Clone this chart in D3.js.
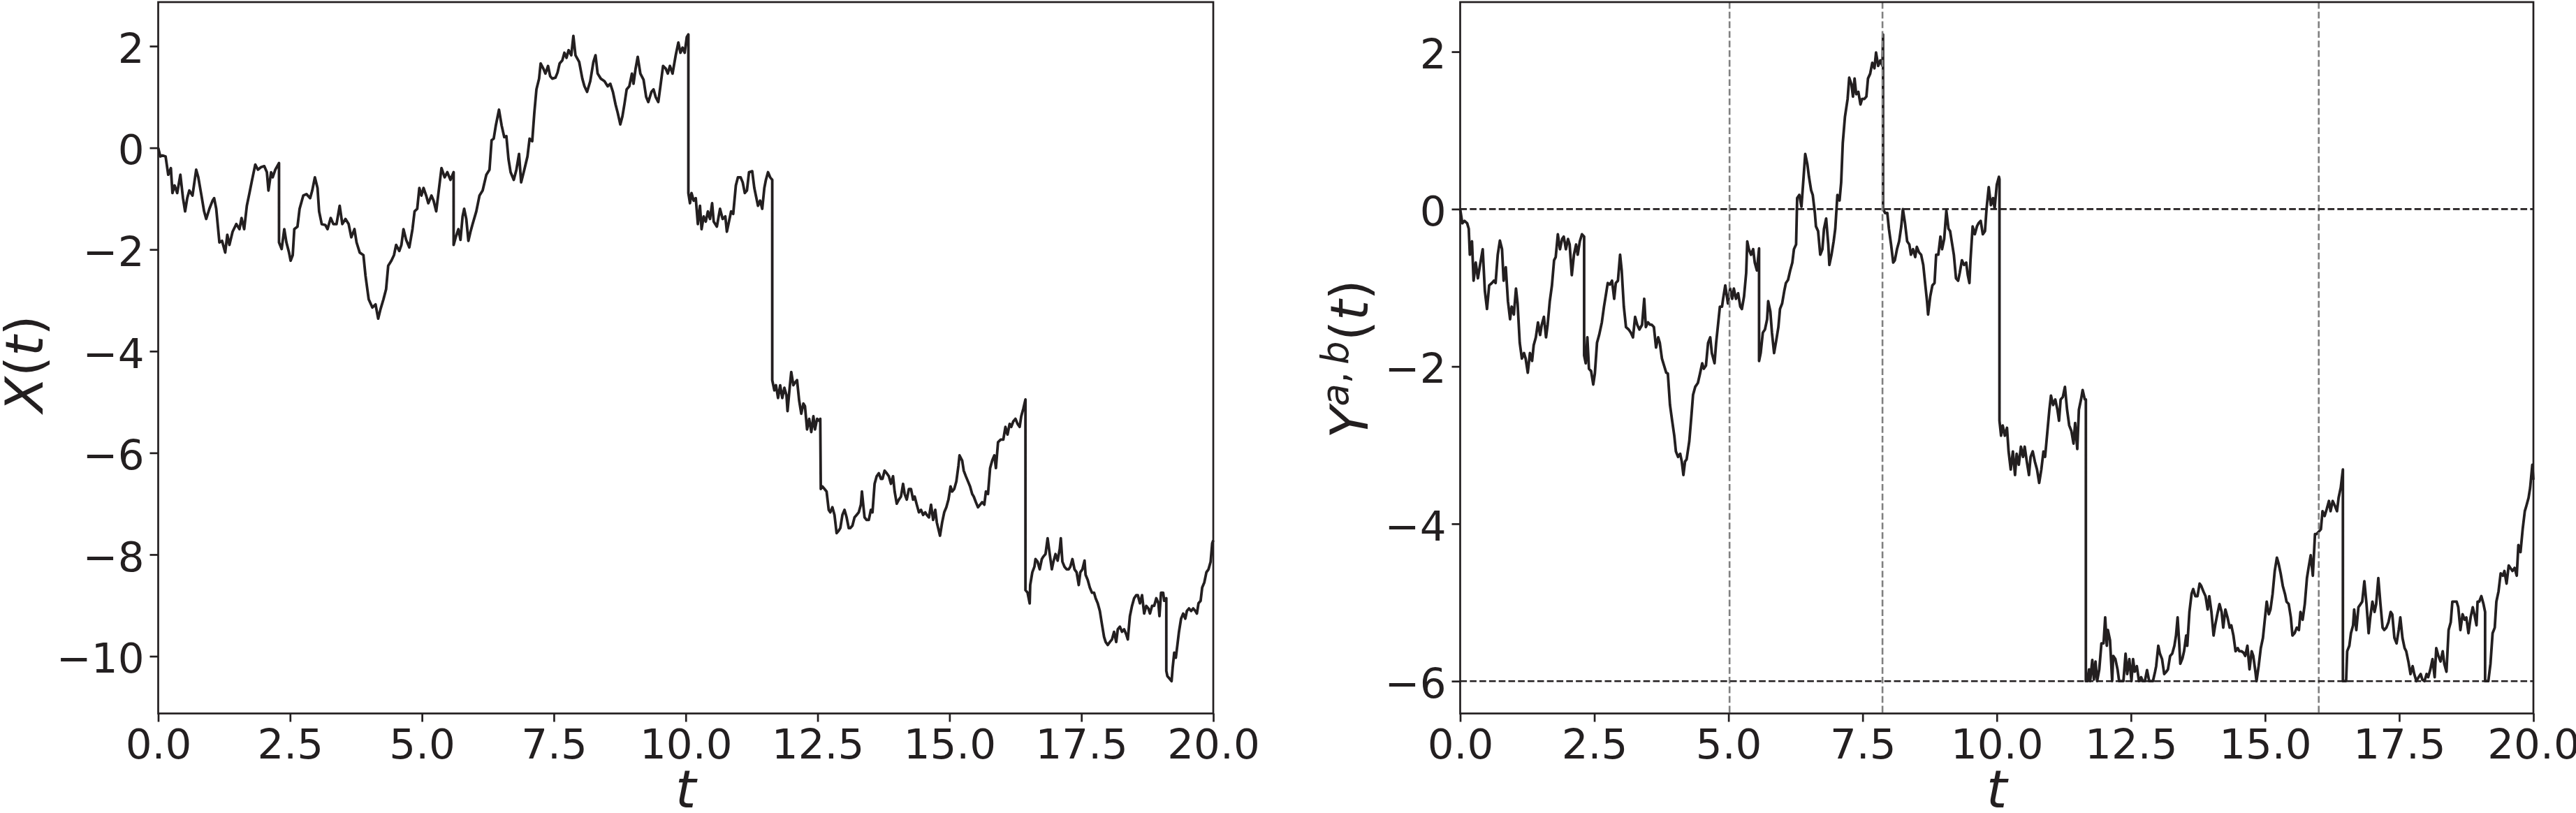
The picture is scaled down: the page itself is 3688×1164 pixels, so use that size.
<!DOCTYPE html>
<html><head><meta charset="utf-8">
<script src="https://cdn.jsdelivr.net/npm/d3@7"></script>
<style>html,body{margin:0;padding:0;background:#fff;} svg{display:block;}</style>
</head><body><svg id="chart" width="3688" height="1164"></svg>
<script>
// ---------- data ----------
const xTickValues = [0, 2.5, 5, 7.5, 10, 12.5, 15, 17.5, 20];
const leftYTicks = [2, 0, -2, -4, -6, -8, -10];
const rightYTicks = [2, 0, -2, -4, -6];
const barrierLevels = [0, -6];
const markedTimes = [5.02, 7.87, 16.0];

// X(t): [t, value]
const xPath = [
[0,0],[0.04,-0.17],[0.08,-0.15],[0.14,-0.17],[0.19,-0.53],[0.24,-0.40],[0.27,-0.89],[0.31,-0.74],[0.36,-0.89],[0.42,-0.53],
[0.47,-0.99],[0.51,-1.25],[0.55,-0.99],[0.59,-0.84],[0.65,-0.94],[0.72,-0.43],[0.76,-0.58],[0.82,-0.94],[0.87,-1.25],[0.91,-1.40],
[0.97,-1.20],[1.03,-1.04],[1.06,-0.99],[1.10,-1.20],[1.16,-1.86],[1.21,-1.83],[1.27,-2.06],[1.31,-1.71],[1.35,-1.91],[1.41,-1.65],
[1.48,-1.50],[1.54,-1.60],[1.58,-1.38],[1.63,-1.60],[1.68,-1.14],[1.73,-0.89],[1.78,-0.63],[1.84,-0.33],[1.89,-0.43],[1.95,-0.38],
[2.01,-0.36],[2.06,-0.48],[2.09,-0.84],[2.14,-0.48],[2.17,-0.58],[2.22,-0.43],[2.29,-0.30],[2.29,-1.86],[2.34,-1.99],[2.39,-1.60],
[2.43,-1.86],[2.48,-2.06],[2.51,-2.22],[2.55,-2.11],[2.58,-1.60],[2.64,-1.55],[2.68,-1.20],[2.75,-0.94],[2.81,-0.91],[2.88,-0.99],
[2.92,-0.84],[2.97,-0.58],[3.02,-0.79],[3.05,-1.25],[3.10,-1.50],[3.17,-1.52],[3.21,-1.60],[3.27,-1.38],[3.32,-1.50],[3.38,-1.50],
[3.44,-1.14],[3.49,-1.50],[3.55,-1.40],[3.61,-1.50],[3.66,-1.76],[3.72,-1.60],[3.76,-1.86],[3.82,-2.06],[3.89,-2.11],[3.93,-2.52],
[3.99,-2.98],[4.06,-3.14],[4.12,-3.08],[4.17,-3.36],[4.21,-3.19],[4.27,-2.98],[4.32,-2.78],[4.36,-2.32],[4.42,-2.22],[4.47,-2.11],
[4.51,-1.91],[4.57,-2.03],[4.61,-1.91],[4.65,-1.60],[4.70,-1.81],[4.76,-1.96],[4.82,-1.60],[4.86,-1.25],[4.91,-1.20],[4.95,-0.79],
[4.99,-0.94],[5.03,-0.79],[5.08,-0.94],[5.12,-1.09],[5.18,-0.94],[5.22,-1.04],[5.27,-1.25],[5.33,-0.74],[5.37,-0.40],[5.43,-0.58],
[5.48,-0.48],[5.54,-0.63],[5.60,-0.48],[5.60,-1.91],[5.64,-1.76],[5.69,-1.60],[5.73,-1.81],[5.77,-1.35],[5.80,-1.20],[5.84,-1.40],
[5.88,-1.83],[5.92,-1.65],[5.96,-1.50],[6.03,-1.25],[6.09,-0.94],[6.15,-0.84],[6.22,-0.53],[6.28,-0.43],[6.32,0.15],[6.36,0.18],
[6.40,0.44],[6.46,0.75],[6.51,0.44],[6.56,0.21],[6.60,0.23],[6.64,-0.22],[6.68,-0.48],[6.74,-0.63],[6.79,-0.43],[6.84,-0.12],
[6.88,-0.68],[6.94,-0.43],[7.00,-0.17],[7.04,0.18],[7.09,0.13],[7.13,0.69],[7.17,1.15],[7.22,1.36],[7.25,1.66],[7.30,1.56],
[7.34,1.46],[7.39,1.61],[7.43,1.41],[7.47,1.36],[7.53,1.38],[7.57,1.48],[7.61,1.66],[7.66,1.72],[7.70,1.87],[7.74,1.77],
[7.78,1.92],[7.83,1.82],[7.87,2.20],[7.91,1.82],[7.98,1.69],[8.04,1.36],[8.08,1.21],[8.13,1.10],[8.19,1.31],[8.25,1.69],
[8.29,1.82],[8.33,1.46],[8.39,1.36],[8.46,1.31],[8.52,1.21],[8.57,1.26],[8.62,1.10],[8.67,0.85],[8.71,0.69],[8.76,0.46],
[8.80,0.62],[8.84,0.87],[8.88,1.15],[8.93,1.21],[8.98,1.46],[9.01,1.26],[9.05,1.56],[9.09,1.79],[9.14,1.46],[9.20,1.34],
[9.25,1.00],[9.29,0.90],[9.35,1.10],[9.39,1.15],[9.43,1.00],[9.48,0.90],[9.52,1.21],[9.57,1.61],[9.62,1.56],[9.66,1.46],
[9.70,1.61],[9.75,1.46],[9.81,1.82],[9.86,2.07],[9.90,1.87],[9.94,1.97],[9.98,1.87],[10.02,2.18],[10.05,2.23],[10.05,-0.89],
[10.08,-1.09],[10.11,-0.89],[10.15,-1.04],[10.19,-0.99],[10.23,-1.50],[10.27,-1.14],[10.30,-1.60],[10.34,-1.35],[10.38,-1.45],[10.42,-1.25],
[10.46,-1.40],[10.50,-1.09],[10.53,-1.45],[10.59,-1.55],[10.65,-1.20],[10.70,-1.40],[10.75,-1.35],[10.78,-1.65],[10.82,-1.45],[10.86,-1.25],
[10.90,-1.30],[10.95,-0.74],[10.99,-0.58],[11.04,-0.58],[11.08,-0.68],[11.12,-0.89],[11.16,-0.84],[11.20,-0.48],[11.26,-0.46],[11.30,-0.79],
[11.33,-0.94],[11.37,-1.14],[11.41,-1.04],[11.45,-1.20],[11.49,-0.79],[11.52,-0.63],[11.56,-0.48],[11.60,-0.58],[11.64,-0.63],[11.64,-4.57],
[11.68,-4.77],[11.71,-4.67],[11.75,-4.92],[11.79,-4.67],[11.83,-4.92],[11.87,-4.72],[11.91,-4.87],[11.93,-5.18],[11.97,-4.72],[12.00,-4.41],
[12.04,-4.67],[12.07,-4.62],[12.11,-4.57],[12.15,-4.97],[12.19,-5.23],[12.23,-5.03],[12.26,-5.08],[12.30,-5.54],[12.34,-5.33],[12.38,-5.59],
[12.42,-5.28],[12.45,-5.54],[12.49,-5.33],[12.54,-5.38],[12.55,-5.33],[12.56,-6.71],[12.59,-6.66],[12.63,-6.71],[12.67,-6.76],[12.71,-7.12],
[12.74,-7.17],[12.78,-7.07],[12.82,-7.22],[12.86,-7.58],[12.90,-7.53],[12.93,-7.48],[12.97,-7.22],[13.01,-7.12],[13.05,-7.27],[13.09,-7.48],
[13.12,-7.48],[13.16,-7.43],[13.20,-7.27],[13.24,-7.22],[13.28,-7.17],[13.32,-7.02],[13.34,-6.76],[13.37,-7.07],[13.39,-7.27],[13.43,-7.32],
[13.47,-7.32],[13.51,-7.12],[13.54,-7.17],[13.58,-6.61],[13.62,-6.46],[13.66,-6.40],[13.70,-6.51],[13.73,-6.51],[13.77,-6.35],[13.81,-6.40],
[13.85,-6.46],[13.89,-6.61],[13.93,-6.46],[13.96,-6.76],[14.00,-7.00],[14.04,-6.92],[14.08,-6.86],[14.12,-6.61],[14.15,-6.81],[14.19,-6.92],
[14.23,-6.71],[14.27,-6.71],[14.31,-6.92],[14.34,-6.86],[14.38,-7.02],[14.42,-7.17],[14.46,-7.12],[14.50,-7.22],[14.54,-7.17],[14.57,-7.22],
[14.61,-7.27],[14.65,-7.02],[14.69,-7.32],[14.73,-7.12],[14.76,-7.37],[14.82,-7.63],[14.86,-7.37],[14.90,-7.17],[14.94,-7.07],[14.98,-6.92],
[15.02,-6.66],[15.05,-6.76],[15.09,-6.71],[15.13,-6.56],[15.17,-6.25],[15.19,-6.05],[15.24,-6.15],[15.27,-6.35],[15.31,-6.46],[15.35,-6.56],
[15.39,-6.66],[15.43,-6.81],[15.46,-6.86],[15.50,-6.97],[15.54,-7.07],[15.58,-7.02],[15.62,-6.97],[15.66,-7.02],[15.69,-6.76],[15.73,-6.81],
[15.77,-6.30],[15.81,-6.15],[15.85,-6.05],[15.88,-6.30],[15.92,-5.79],[15.97,-5.74],[16.02,-5.74],[16.06,-5.49],[16.10,-5.64],[16.14,-5.43],
[16.17,-5.49],[16.21,-5.38],[16.25,-5.33],[16.29,-5.43],[16.33,-5.49],[16.36,-5.28],[16.40,-5.13],[16.44,-4.95],[16.44,-8.70],[16.48,-8.75],
[16.52,-8.96],[16.53,-8.60],[16.57,-8.35],[16.61,-8.24],[16.63,-8.09],[16.67,-8.14],[16.71,-8.29],[16.75,-8.09],[16.78,-8.04],[16.82,-7.99],
[16.86,-7.68],[16.90,-7.99],[16.94,-8.29],[16.97,-8.14],[17.01,-7.99],[17.05,-8.12],[17.09,-7.89],[17.11,-7.68],[17.14,-8.14],[17.18,-8.24],
[17.22,-8.29],[17.26,-8.29],[17.29,-8.24],[17.33,-8.09],[17.37,-8.29],[17.41,-8.35],[17.45,-8.60],[17.48,-8.35],[17.52,-8.29],[17.56,-8.12],
[17.58,-8.40],[17.62,-8.50],[17.66,-8.65],[17.70,-8.75],[17.74,-8.75],[17.77,-8.86],[17.81,-8.96],[17.85,-9.11],[17.89,-9.37],[17.93,-9.62],
[17.96,-9.72],[18.00,-9.78],[18.04,-9.72],[18.08,-9.67],[18.12,-9.52],[18.16,-9.72],[18.19,-9.47],[18.23,-9.42],[18.27,-9.52],[18.31,-9.47],
[18.35,-9.57],[18.38,-9.67],[18.42,-9.21],[18.46,-9.01],[18.50,-8.86],[18.54,-8.80],[18.57,-8.80],[18.61,-8.96],[18.65,-8.80],[18.69,-9.16],
[18.73,-9.01],[18.77,-9.06],[18.80,-9.16],[18.84,-9.01],[18.88,-9.01],[18.92,-8.86],[18.96,-8.96],[18.98,-9.21],[19.01,-8.75],[19.05,-8.75],
[19.07,-8.91],[19.11,-8.86],[19.11,-10.29],[19.13,-10.39],[19.17,-10.44],[19.21,-10.49],[19.23,-10.23],[19.26,-9.93],[19.29,-10.03],[19.32,-9.78],
[19.35,-9.52],[19.39,-9.26],[19.43,-9.16],[19.47,-9.26],[19.50,-9.11],[19.54,-9.06],[19.58,-9.11],[19.62,-9.06],[19.66,-9.11],[19.69,-9.16],
[19.72,-8.96],[19.76,-8.91],[19.79,-8.65],[19.83,-8.55],[19.87,-8.35],[19.91,-8.29],[19.95,-8.14],[19.98,-7.78],[20.00,-7.72]
];

// Y^{a,b}(t): [t, value]
const yPath = [
[0,0],[0.04,-0.18],[0.08,-0.15],[0.13,-0.18],[0.16,-0.25],[0.18,-0.58],[0.22,-0.41],[0.25,-0.91],[0.29,-0.68],[0.33,-0.88],
[0.37,-0.71],[0.42,-0.51],[0.46,-1.04],[0.50,-1.27],[0.54,-0.97],[0.59,-0.94],[0.63,-0.91],[0.66,-0.94],[0.70,-0.58],[0.74,-0.40],
[0.78,-0.51],[0.81,-0.91],[0.85,-0.74],[0.89,-1.17],[0.93,-1.40],[0.96,-1.24],[1.00,-1.34],[1.04,-1.01],[1.07,-1.20],[1.11,-1.70],
[1.15,-1.90],[1.19,-1.83],[1.22,-1.90],[1.26,-2.08],[1.30,-1.83],[1.34,-1.93],[1.37,-1.73],[1.41,-1.63],[1.45,-1.44],[1.49,-1.60],
[1.52,-1.47],[1.56,-1.37],[1.60,-1.63],[1.63,-1.47],[1.67,-1.17],[1.71,-0.97],[1.75,-0.65],[1.78,-0.61],[1.82,-0.32],[1.86,-0.51],
[1.90,-0.38],[1.93,-0.35],[1.97,-0.51],[2.01,-0.38],[2.04,-0.45],[2.08,-0.84],[2.12,-0.58],[2.16,-0.45],[2.19,-0.58],[2.23,-0.41],
[2.27,-0.32],[2.31,-0.35],[2.31,-1.86],[2.34,-1.96],[2.37,-1.63],[2.40,-2.03],[2.44,-2.06],[2.48,-2.23],[2.51,-2.09],[2.55,-1.70],
[2.59,-1.60],[2.64,-1.44],[2.68,-1.24],[2.72,-1.07],[2.75,-0.94],[2.79,-0.96],[2.83,-0.91],[2.87,-1.14],[2.90,-0.94],[2.94,-0.91],
[2.98,-0.58],[3.01,-0.78],[3.05,-1.24],[3.09,-1.50],[3.14,-1.53],[3.18,-1.57],[3.22,-1.63],[3.26,-1.37],[3.30,-1.47],[3.34,-1.53],
[3.39,-1.47],[3.43,-1.14],[3.46,-1.50],[3.50,-1.44],[3.54,-1.47],[3.57,-1.47],[3.61,-1.50],[3.65,-1.76],[3.69,-1.63],[3.72,-1.70],
[3.76,-1.90],[3.80,-1.99],[3.84,-2.08],[3.87,-2.09],[3.91,-2.49],[3.95,-2.69],[3.99,-2.88],[4.02,-3.08],[4.06,-3.15],[4.10,-3.11],
[4.13,-3.21],[4.16,-3.38],[4.19,-3.21],[4.22,-3.18],[4.27,-2.95],[4.31,-2.62],[4.34,-2.36],[4.38,-2.26],[4.43,-2.21],[4.47,-2.09],
[4.51,-1.96],[4.54,-2.03],[4.58,-1.99],[4.62,-1.70],[4.66,-1.63],[4.69,-1.83],[4.74,-1.96],[4.77,-1.70],[4.81,-1.44],[4.84,-1.24],
[4.88,-1.24],[4.90,-1.14],[4.94,-0.97],[4.99,-1.20],[5.03,-1.01],[5.07,-1.14],[5.10,-1.01],[5.14,-1.14],[5.18,-1.07],[5.22,-1.24],
[5.25,-1.27],[5.29,-1.11],[5.33,-0.81],[5.35,-0.41],[5.38,-0.51],[5.42,-0.58],[5.46,-0.51],[5.49,-0.68],[5.53,-0.78],[5.57,-0.50],
[5.57,-1.93],[5.60,-1.83],[5.64,-1.57],[5.68,-1.53],[5.72,-1.40],[5.74,-1.17],[5.78,-1.30],[5.81,-1.57],[5.85,-1.83],[5.89,-1.67],
[5.93,-1.50],[5.96,-1.27],[6.00,-1.20],[6.04,-1.04],[6.07,-0.94],[6.11,-0.90],[6.15,-0.78],[6.19,-0.68],[6.22,-0.51],[6.26,-0.45],
[6.28,0.14],[6.32,0.18],[6.36,0.03],[6.40,0.41],[6.43,0.70],[6.47,0.57],[6.50,0.41],[6.54,0.24],[6.57,0.18],[6.61,-0.05],
[6.63,-0.22],[6.67,-0.28],[6.71,-0.58],[6.75,-0.51],[6.78,-0.25],[6.82,-0.12],[6.86,-0.45],[6.88,-0.71],[6.92,-0.58],[6.96,-0.41],
[6.99,-0.25],[7.03,0.18],[7.07,0.11],[7.10,0.34],[7.13,0.84],[7.17,1.17],[7.22,1.40],[7.25,1.67],[7.29,1.59],[7.32,1.43],
[7.35,1.66],[7.38,1.46],[7.42,1.49],[7.46,1.33],[7.49,1.40],[7.53,1.40],[7.57,1.43],[7.60,1.66],[7.64,1.72],[7.68,1.86],
[7.72,1.79],[7.75,1.99],[7.79,1.82],[7.83,1.89],[7.87,1.82],[7.88,2.22],[7.88,0],[7.92,-0.05],[7.96,-0.05],[7.99,-0.25],
[8.03,-0.45],[8.07,-0.68],[8.10,-0.65],[8.14,-0.51],[8.18,-0.41],[8.22,-0.22],[8.25,0],[8.29,-0.18],[8.33,-0.41],[8.37,-0.45],
[8.40,-0.58],[8.44,-0.51],[8.48,-0.61],[8.51,-0.48],[8.55,-0.55],[8.59,-0.58],[8.63,-0.71],[8.66,-0.91],[8.70,-1.17],[8.72,-1.34],
[8.76,-1.11],[8.80,-0.97],[8.84,-0.94],[8.87,-0.58],[8.91,-0.58],[8.95,-0.35],[8.98,-0.51],[9.02,-0.38],[9.06,-0.02],[9.10,-0.25],
[9.13,-0.28],[9.16,-0.41],[9.20,-0.58],[9.24,-0.88],[9.28,-0.91],[9.31,-0.81],[9.35,-0.65],[9.39,-0.71],[9.43,-0.68],[9.46,-0.84],
[9.49,-0.94],[9.51,-0.65],[9.55,-0.22],[9.59,-0.32],[9.63,-0.22],[9.66,-0.18],[9.70,-0.15],[9.74,-0.32],[9.78,-0.28],[9.81,0.01],
[9.85,0.28],[9.89,0.05],[9.93,0.14],[9.96,0.01],[10.00,0.31],[10.04,0.41],[10.05,0.38],[10.05,-2.69],[10.08,-2.88],[10.11,-2.75],
[10.15,-2.88],[10.19,-2.78],[10.22,-3.08],[10.26,-3.31],[10.30,-3.08],[10.34,-3.38],[10.37,-3.11],[10.41,-3.25],[10.45,-3.02],[10.49,-3.15],
[10.52,-3.02],[10.56,-3.21],[10.60,-3.38],[10.63,-3.15],[10.67,-3.08],[10.71,-3.21],[10.75,-3.31],[10.79,-3.48],[10.83,-3.31],[10.87,-3.08],
[10.90,-3.15],[10.94,-2.85],[10.98,-2.55],[11.01,-2.37],[11.05,-2.49],[11.09,-2.42],[11.13,-2.55],[11.16,-2.69],[11.19,-2.42],[11.23,-2.39],
[11.27,-2.26],[11.31,-2.55],[11.35,-2.75],[11.39,-2.82],[11.43,-2.98],[11.46,-2.72],[11.50,-3.05],[11.53,-2.55],[11.57,-2.42],[11.60,-2.30],
[11.64,-2.42],[11.66,-2.42],[11.66,-6.00],[11.69,-6.00],[11.72,-5.85],[11.74,-6.00],[11.78,-5.73],[11.81,-5.98],[11.84,-5.75],[11.87,-6.00],
[11.91,-5.85],[11.95,-5.52],[11.99,-5.52],[12.02,-5.19],[12.05,-5.55],[12.07,-5.35],[12.11,-5.48],[12.15,-6.00],[12.17,-5.68],[12.21,-5.72],
[12.25,-5.85],[12.28,-6.00],[12.32,-6.00],[12.36,-6.00],[12.40,-5.65],[12.43,-5.91],[12.47,-5.72],[12.51,-6.00],[12.54,-5.72],[12.57,-5.88],
[12.61,-5.81],[12.65,-6.00],[12.69,-5.95],[12.72,-6.00],[12.76,-6.00],[12.80,-5.86],[12.84,-6.00],[12.87,-6.00],[12.91,-6.00],[12.95,-5.88],
[12.97,-5.81],[13.01,-5.55],[13.04,-5.65],[13.08,-5.72],[13.12,-5.91],[13.16,-5.88],[13.19,-5.85],[13.23,-5.68],[13.27,-5.65],[13.31,-5.55],
[13.34,-5.42],[13.37,-5.19],[13.40,-5.52],[13.42,-5.78],[13.46,-5.71],[13.49,-5.62],[13.53,-5.42],[13.55,-5.55],[13.59,-5.12],[13.63,-4.89],
[13.66,-4.83],[13.70,-4.92],[13.74,-4.92],[13.78,-4.76],[13.81,-4.79],[13.85,-4.86],[13.89,-4.92],[13.93,-5.09],[13.96,-4.92],[14.00,-5.12],
[14.04,-5.42],[14.07,-5.29],[14.11,-5.15],[14.15,-5.02],[14.19,-5.12],[14.22,-5.32],[14.26,-5.09],[14.30,-5.19],[14.34,-5.32],[14.37,-5.29],
[14.41,-5.42],[14.45,-5.62],[14.49,-5.58],[14.52,-5.62],[14.56,-5.62],[14.60,-5.64],[14.63,-5.68],[14.67,-5.55],[14.71,-5.85],[14.75,-5.62],
[14.78,-5.68],[14.82,-5.88],[14.84,-6.00],[14.88,-5.81],[14.92,-5.58],[14.96,-5.45],[14.99,-5.25],[15.03,-4.99],[15.07,-5.15],[15.10,-5.09],
[15.14,-4.89],[15.18,-4.60],[15.22,-4.43],[15.25,-4.50],[15.29,-4.63],[15.33,-4.79],[15.37,-4.89],[15.40,-4.99],[15.44,-5.02],[15.48,-5.19],
[15.51,-5.42],[15.55,-5.39],[15.59,-5.32],[15.63,-5.35],[15.66,-5.12],[15.70,-5.22],[15.74,-5.02],[15.78,-4.69],[15.81,-4.56],[15.85,-4.40],
[15.89,-4.66],[15.93,-4.13],[15.96,-4.13],[16.00,-4.10],[16.04,-4.07],[16.07,-3.84],[16.11,-3.90],[16.15,-3.81],[16.19,-3.71],[16.22,-3.84],
[16.26,-3.71],[16.30,-3.77],[16.34,-3.84],[16.37,-3.67],[16.41,-3.54],[16.45,-3.31],[16.45,-6.00],[16.48,-6.00],[16.51,-6.00],[16.53,-5.62],
[16.57,-5.55],[16.60,-5.39],[16.64,-5.29],[16.66,-5.09],[16.70,-5.35],[16.74,-5.06],[16.78,-5.02],[16.81,-4.99],[16.85,-4.73],[16.89,-5.02],
[16.93,-5.39],[16.96,-5.19],[17.00,-4.99],[17.04,-5.12],[17.07,-5.02],[17.11,-4.69],[17.15,-5.02],[17.19,-5.32],[17.22,-5.35],[17.26,-5.32],
[17.30,-5.25],[17.34,-5.12],[17.37,-5.15],[17.41,-5.45],[17.45,-5.52],[17.49,-5.35],[17.52,-5.19],[17.56,-5.45],[17.60,-5.58],[17.63,-5.62],
[17.67,-5.75],[17.71,-5.91],[17.75,-5.81],[17.78,-5.91],[17.82,-6.00],[17.86,-5.95],[17.90,-5.91],[17.93,-5.98],[17.97,-6.00],[18.01,-5.91],
[18.04,-5.95],[18.08,-5.85],[18.12,-5.72],[18.16,-5.95],[18.19,-5.58],[18.23,-5.68],[18.27,-5.75],[18.31,-5.62],[18.34,-5.78],[18.38,-5.88],
[18.42,-5.35],[18.46,-5.25],[18.49,-4.99],[18.53,-4.99],[18.57,-4.99],[18.60,-5.06],[18.64,-5.35],[18.68,-5.15],[18.72,-5.22],[18.75,-5.19],
[18.79,-5.39],[18.83,-5.19],[18.87,-5.06],[18.90,-5.15],[18.94,-5.29],[18.96,-4.99],[18.99,-4.99],[19.03,-4.92],[19.07,-5.02],[19.10,-5.12],
[19.10,-6.00],[19.13,-6.00],[19.16,-6.00],[19.20,-5.78],[19.24,-5.39],[19.28,-5.32],[19.31,-4.99],[19.35,-4.86],[19.39,-4.63],[19.43,-4.66],
[19.46,-4.60],[19.50,-4.76],[19.54,-4.53],[19.57,-4.56],[19.61,-4.60],[19.65,-4.56],[19.69,-4.66],[19.72,-4.27],[19.76,-4.36],[19.80,-4.07],
[19.84,-3.84],[19.87,-3.77],[19.91,-3.67],[19.94,-3.54],[19.98,-3.25],[20.00,-3.44]
];

// ---------- drawing ----------
const ink = "#231f20";
const font = "'DejaVu Sans', sans-serif";
const tickFont = 59.5, labelFont = 75;
const plotTop = 3, plotBottom = 1021.5;
const svg = d3.select('#chart');
svg.append('rect').attr('width', 3688).attr('height', 1164).attr('fill', '#fff');

function padded(ext) { const r = ext[1] - ext[0]; return [ext[0] - 0.05 * r, ext[1] + 0.05 * r]; }
const fmtY = d => (d < 0 ? '\u2212' + Math.abs(d) : String(d));

function drawPanel(cfg) {
  const x = d3.scaleLinear().domain([0, 20]).range([cfg.x0, cfg.x1]);
  const y = d3.scaleLinear().domain(padded(d3.extent(cfg.data, d => d[1]))).range([plotBottom, plotTop]);
  const g = svg.append('g');

  const line = d3.line().x(d => x(d[0])).y(d => y(d[1]));
  g.append('path').datum(cfg.data).attr('d', line)
    .attr('fill', 'none').attr('stroke', ink).attr('stroke-width', 3.8)
    .attr('stroke-linejoin', 'round');

  if (cfg.guides) {
    g.selectAll('.vline').data(markedTimes).enter().append('line')
      .attr('x1', d => x(d)).attr('x2', d => x(d))
      .attr('y1', plotTop).attr('y2', plotBottom)
      .attr('stroke', '#808080').attr('stroke-width', 2.6).attr('stroke-dasharray', '9.6,4.2');
    g.selectAll('.hline').data(barrierLevels).enter().append('line')
      .attr('x1', cfg.x0).attr('x2', cfg.x1)
      .attr('y1', d => y(d)).attr('y2', d => y(d))
      .attr('stroke', ink).attr('stroke-width', 2.6).attr('stroke-dasharray', '9.6,4.2');
  }

  g.append('rect').attr('x', cfg.x0).attr('y', plotTop)
    .attr('width', cfg.x1 - cfg.x0).attr('height', plotBottom - plotTop)
    .attr('fill', 'none').attr('stroke', ink).attr('stroke-width', 2.7);

  const xa = g.append('g').attr('transform', `translate(0,${plotBottom})`)
    .call(d3.axisBottom(x).tickValues(xTickValues).tickSize(12).tickFormat(d3.format('.1f')));
  xa.select('.domain').remove();
  xa.selectAll('line').attr('stroke', ink).attr('stroke-width', 2.7);
  xa.selectAll('text').attr('y', 64).attr('dy', null)
    .attr('fill', ink).style('font-family', font).style('font-size', tickFont + 'px');

  const ya = g.append('g').attr('transform', `translate(${cfg.x0},0)`)
    .call(d3.axisLeft(y).tickValues(cfg.yTicks).tickSize(12).tickFormat(fmtY));
  ya.select('.domain').remove();
  ya.selectAll('line').attr('stroke', ink).attr('stroke-width', 2.7);
  ya.selectAll('text').attr('x', -20).attr('dy', '0.39em')
    .attr('fill', ink).style('font-family', font).style('font-size', tickFont + 'px');

  // x label
  g.append('text').attr('x', (cfg.x0 + cfg.x1) / 2).attr('y', 1156)
    .attr('text-anchor', 'middle').attr('fill', ink)
    .style('font-family', font).style('font-size', labelFont + 'px').style('font-style', 'italic')
    .text('t');

  // y label
  const yl = g.append('text')
    .attr('transform', `translate(${cfg.labelX},${cfg.labelY}) rotate(-90)`)
    .attr('text-anchor', 'middle').attr('fill', ink)
    .style('font-family', font).style('font-size', labelFont + 'px');
  cfg.label(yl);
}

drawPanel({
  x0: 226.5, x1: 1737, data: xPath, yTicks: leftYTicks, guides: false,
  labelX: 61, labelY: 521,
  label: t => {
    t.append('tspan').style('font-style', 'italic').text('X');
    t.append('tspan').text('(');
    t.append('tspan').style('font-style', 'italic').text('t');
    t.append('tspan').text(')');
  }
});

drawPanel({
  x0: 2090.5, x1: 3627, data: yPath, yTicks: rightYTicks, guides: true,
  labelX: 1958, labelY: 514,
  label: t => {
    t.append('tspan').style('font-style', 'italic').text('Y');
    t.append('tspan').attr('dy', -28).style('font-size', '53px').style('font-style', 'italic').text('a');
    t.append('tspan').style('font-size', '53px').text(',\u2009');
    t.append('tspan').style('font-size', '53px').style('font-style', 'italic').text('b');
    t.append('tspan').attr('dy', 28).text('(');
    t.append('tspan').style('font-style', 'italic').text('t');
    t.append('tspan').text(')');
  }
});
</script>
</body></html>
